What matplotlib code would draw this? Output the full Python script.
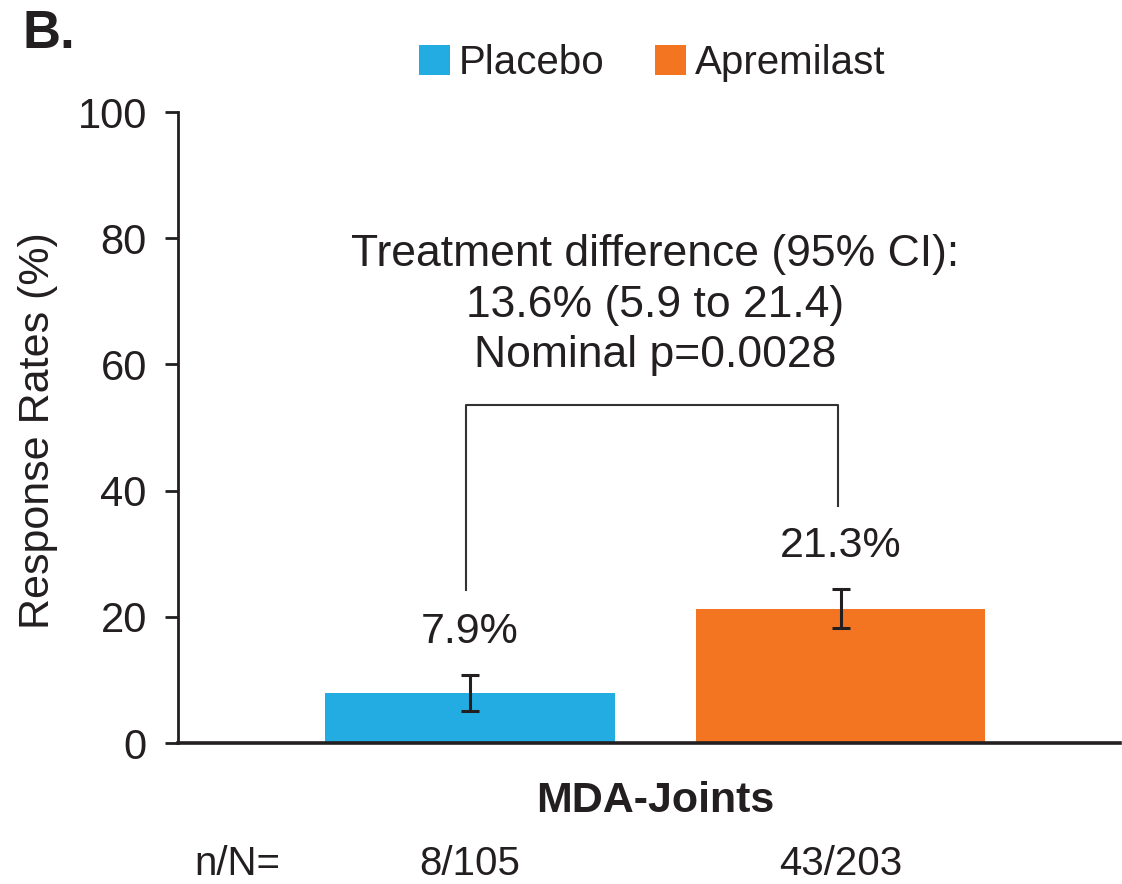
import matplotlib
matplotlib.use("Agg")
import matplotlib.pyplot as plt
from matplotlib.patches import Patch
import matplotlib.transforms as mtransforms

plt.rcParams['font.family'] = ['Liberation Sans', 'DejaVu Sans']

# Data
groups = ["Placebo", "Apremilast"]
rates = [7.9, 21.3]
ci_low = [5.1, 18.2]
ci_high = [10.8, 24.4]
counts = ["8/105", "43/203"]
colors = ["#23ACE2", "#F47521"]
endpoint = "MDA-Joints"
diff_text = "Treatment difference (95% CI):\n13.6% (5.9 to 21.4)\nNominal p=0.0028"
yticks = [0, 20, 40, 60, 80, 100]

TXT = "#231F20"
FS = 30

fig = plt.figure(figsize=(11.22, 8.84), dpi=100)
ax = fig.add_axes([0.1586, 0.1595, 0.8394, 0.7138])

x = [0, 1]
bars = ax.bar(x, rates, width=0.78, color=colors, zorder=2)
yerr = [[r - lo for r, lo in zip(rates, ci_low)], [hi - r for r, hi in zip(rates, ci_high)]]
ax.errorbar(x, rates, yerr=yerr, fmt="none", ecolor=TXT, elinewidth=2.2,
            capsize=6.5, capthick=2.2, zorder=3)

# value labels above error bars
for xi, r, hi in zip(x, rates, ci_high):
    ax.text(xi, hi + 6.8, f"{r}%", ha="center", va="center", fontsize=31, color=TXT)

# comparison bracket
br_top = 53.6
ax.plot([x[0] - 0.011, x[0] - 0.011, x[1] - 0.008, x[1] - 0.008],
        [24.2, br_top, br_top, 37.6], color="#333333", lw=1.5, zorder=2)

ax.text(0.5, 69.4, diff_text, ha="center", va="center", fontsize=32,
        color=TXT, linespacing=1.3)

ax.set_xlim(-0.787, 1.752)
ax.set_ylim(0, 100)
ax.set_yticks(yticks)
ax.set_xticks([])
ax.tick_params(axis="y", direction="out", length=9.4, width=2.0, pad=13,
               labelsize=FS, colors=TXT)
for s in ["top", "right"]:
    ax.spines[s].set_visible(False)
ax.spines["left"].set_linewidth(2.0)
ax.spines["left"].set_color(TXT)
ax.spines["bottom"].set_linewidth(2.6)
ax.spines["bottom"].set_color(TXT)

fig.text(38 / 1122, 1 - 431 / 884, "Response Rates (%)", rotation=90,
         ha="center", va="center", fontsize=31, color=TXT)

# category and n/N rows
trans = mtransforms.blended_transform_factory(ax.transData, fig.transFigure)
ax.text(0.5, 1 - 801 / 884, endpoint, transform=trans, ha="center", va="center",
        fontsize=31, fontweight="bold", color=TXT)
fig.text(237 / 1122, 1 - 864 / 884, "n/N=", ha="center", va="center",
         fontsize=29, color=TXT)
for xi, c in zip(x, counts):
    ax.text(xi, 1 - 864 / 884, c, transform=trans, ha="center", va="center",
            fontsize=29, color=TXT)

fig.text(22 / 1122, 1 - 34 / 884, "B.", ha="left", va="center", fontsize=38,
         fontweight="bold", color=TXT)

handles = [Patch(facecolor=c, edgecolor="none") for c in colors]
fig.legend(handles, groups, loc="center", bbox_to_anchor=(0.581, 0.929), ncol=2,
           frameon=False, fontsize=29, handlelength=0.77, handleheight=0.77,
           handletextpad=0.22, columnspacing=1.25, borderpad=0, labelcolor=TXT)

fig.savefig("out.png", dpi=100, facecolor="white")
